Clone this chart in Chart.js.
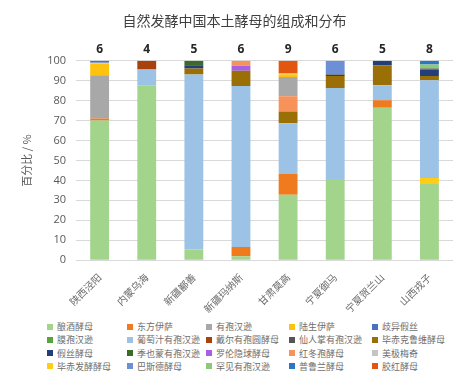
<!DOCTYPE html>
<html><head><meta charset="utf-8">
<script src="https://cdn.jsdelivr.net/npm/chart.js@4.4.1/dist/chart.umd.min.js"></script>
<style>
html,body{margin:0;padding:0;background:#fff;}
#wrap{position:relative;width:470px;height:380px;}
#c{position:absolute;left:0;top:0;}
#legend{position:absolute;left:47px;top:320px;display:grid;grid-template-columns:80px 79px 83px 83px 80px;row-gap:0px;font-family:"Noto Sans CJK SC";font-size:9px;color:#6e6e6e;}
#legend div{height:13.3px;line-height:13.3px;white-space:nowrap;}
#legend span{display:inline-block;width:6px;height:6px;margin-right:4px;vertical-align:middle;position:relative;top:-1px;}
</style></head>
<body><div id="wrap"><canvas id="c" width="470" height="318"></canvas><div id="legend"></div></div>
<script>
const categories = ["陕西泾阳","内蒙乌海","新疆鄯善","新疆玛纳斯","甘肃莫高","宁夏御马","宁夏贺兰山","山西戎子"];
const speciesCounts = [6,4,5,6,9,6,5,8];
const yTicks = [0,10,20,30,40,50,60,70,80,90,100];

// species values (%), per region
const 酿酒酵母 =       [70.1, 87.7, 5.4, 2.0, 32.8, 40.7, 76.5, 38.2];
const 东方伊萨 =       [0.9, 0, 0, 4.6, 10.4, 0, 3.7, 0];
const 毕赤发酵酵母 =   [0, 0, 0, 0, 0, 0, 0, 3.0];
const 葡萄汁有孢汉逊 = [0, 7.9, 87.7, 80.8, 25.5, 45.7, 7.5, 49.1];
const 毕赤克鲁维酵母 = [0, 0, 3.0, 7.6, 5.9, 6.0, 10.1, 2.1];
const 罗伦隐球酵母 =   [0, 0, 0, 2.5, 0, 0, 0, 0];
const 红冬孢酵母 =     [0, 0, 0, 2.5, 7.6, 0, 0, 0];
const 有孢汉逊 =       [21.8, 0, 0, 0, 9.7, 0, 0, 0];
const 陆生伊萨 =       [5.8, 0, 0, 0, 1.3, 0, 0, 0];
const 美极梅奇 =       [0.4, 0, 0, 0, 0.4, 0, 0, 0];
const 歧异假丝 =       [1.0, 0, 0, 0, 0, 0, 0, 0];
const 假丝酵母 =       [0, 0, 1.7, 0, 0, 0.6, 2.2, 3.2];
const 季也蒙有孢汉逊 = [0, 0, 2.2, 0, 0, 0, 0, 0];
const 仙人掌有孢汉逊 = [0, 0, 0, 0, 0, 0.3, 0, 0.5];
const 罕见有孢汉逊 =   [0, 0, 0, 0, 0, 0, 0, 2.0];
const 普鲁兰酵母 =     [0, 0, 0, 0, 0, 0, 0, 1.9];
const 巴斯德酵母 =     [0, 0, 0, 0, 0, 6.7, 0, 0];
const 戴尔有孢圆酵母 = [0, 4.4, 0, 0, 0, 0, 0, 0];
const 胶红酵母 =       [0, 0, 0, 0, 6.4, 0, 0, 0];
const 膜孢汉逊 =       [0, 0, 0, 0, 0, 0, 0, 0];

// stacking order (bottom to top)
const stackSeries = [
 ["酿酒酵母",酿酒酵母,"#a3d48c"],
 ["东方伊萨",东方伊萨,"#f07a1e"],
 ["毕赤发酵酵母",毕赤发酵酵母,"#ffcc16"],
 ["葡萄汁有孢汉逊",葡萄汁有孢汉逊,"#9cc3e6"],
 ["毕赤克鲁维酵母",毕赤克鲁维酵母,"#9a6f06"],
 ["罗伦隐球酵母",罗伦隐球酵母,"#a660e6"],
 ["红冬孢酵母",红冬孢酵母,"#f7925a"],
 ["有孢汉逊",有孢汉逊,"#a8a8a8"],
 ["陆生伊萨",陆生伊萨,"#ffc20e"],
 ["美极梅奇",美极梅奇,"#c4c4c4"],
 ["歧异假丝",歧异假丝,"#4a70c0"],
 ["假丝酵母",假丝酵母,"#223f7a"],
 ["季也蒙有孢汉逊",季也蒙有孢汉逊,"#3b6a2b"],
 ["仙人掌有孢汉逊",仙人掌有孢汉逊,"#555555"],
 ["罕见有孢汉逊",罕见有孢汉逊,"#8ec97a"],
 ["普鲁兰酵母",普鲁兰酵母,"#2a78c4"],
 ["巴斯德酵母",巴斯德酵母,"#6d8fd6"],
 ["戴尔有孢圆酵母",戴尔有孢圆酵母,"#a9410d"],
 ["胶红酵母",胶红酵母,"#e3560f"],
 ["膜孢汉逊",膜孢汉逊,"#5aa33a"]
];
const legendOrder = ["酿酒酵母","东方伊萨","有孢汉逊","陆生伊萨","歧异假丝",
 "膜孢汉逊","葡萄汁有孢汉逊","戴尔有孢圆酵母","仙人掌有孢汉逊","毕赤克鲁维酵母",
 "假丝酵母","季也蒙有孢汉逊","罗伦隐球酵母","红冬孢酵母","美极梅奇",
 "毕赤发酵酵母","巴斯德酵母","罕见有孢汉逊","普鲁兰酵母","胶红酵母"];

const countPlugin = {
  id:'counts',
  afterDatasetsDraw(chart){
    const ctx = chart.ctx, xs = chart.scales.x, ys = chart.scales.y;
    ctx.save();
    ctx.font = 'bold 12px "Open Sans"';
    ctx.fillStyle = '#262626';
    ctx.textAlign = 'center';
    ctx.textBaseline = 'bottom';
    speciesCounts.forEach((n,i)=>{
      ctx.fillText(String(n), xs.getPixelForValue(i), ys.getPixelForValue(100) - 5);
    });
    ctx.restore();
  }
};

new Chart(document.getElementById('c'), {
  type:'bar',
  data:{
    labels:categories,
    datasets:stackSeries.map(s=>({label:s[0],data:s[1],backgroundColor:s[2],borderWidth:0,barPercentage:0.8,categoryPercentage:0.5}))
  },
  options:{
    responsive:false,animation:false,
    layout:{padding:{left:16,right:17,top:0,bottom:0}},
    plugins:{
      legend:{display:false},tooltip:{enabled:false},
      title:{display:true,text:"自然发酵中国本土酵母的组成和分布",color:'#404040',
        font:{family:'"Noto Sans CJK SC"',size:14,weight:'normal'},padding:{top:12,bottom:32}}
    },
    scales:{
      x:{stacked:true,grid:{display:false},border:{display:false},
        ticks:{color:'#6a6a6a',font:{family:'"Noto Sans CJK SC"',size:10},maxRotation:45,minRotation:45,padding:3}},
      y:{stacked:true,min:0,max:100,
        afterBuildTicks(ax){ax.ticks = yTicks.map(v=>({value:v}));},
        grid:{color:'#d9d9d9',drawTicks:false},border:{display:false},
        ticks:{color:'#595959',font:{family:'"Open Sans"',size:11},padding:10},
        title:{display:true,text:'百分比 / %',color:'#595959',font:{family:'"Noto Sans CJK SC"',size:11},padding:{bottom:4}}}
    }
  },
  plugins:[countPlugin]
});

const lg = document.getElementById('legend');
legendOrder.forEach(name=>{
  const s = stackSeries.find(t=>t[0]===name);
  const d = document.createElement('div');
  d.innerHTML = '<span style="background:'+s[2]+'"></span>'+name;
  lg.appendChild(d);
});
</script></body></html>
